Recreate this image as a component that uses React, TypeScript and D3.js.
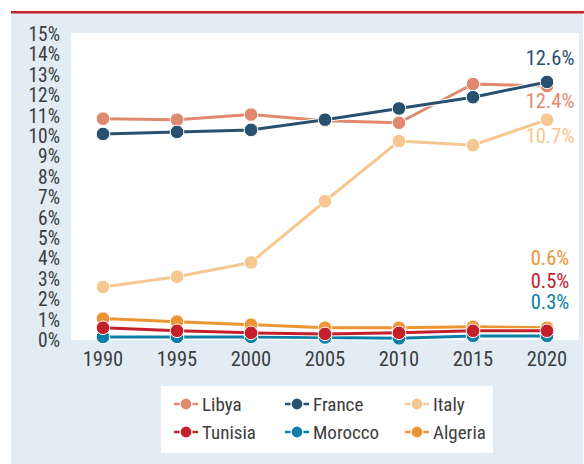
import React from "react";
import * as d3 from "d3";

const years = [1990, 1995, 2000, 2005, 2010, 2015, 2020];
const libya = [10.85, 10.8, 11.05, 10.75, 10.65, 12.55, 12.45];
const france = [10.1, 10.2, 10.3, 10.8, 11.35, 11.9, 12.65];
const italy = [2.6, 3.1, 3.8, 6.8, 9.75, 9.55, 10.8];
const tunisia = [0.6, 0.45, 0.35, 0.3, 0.35, 0.45, 0.45];
const morocco = [0.15, 0.15, 0.15, 0.12, 0.08, 0.2, 0.2];
const algeria = [1.05, 0.9, 0.75, 0.6, 0.6, 0.65, 0.6];
const yTicks = [0, 1, 2, 3, 4, 5, 6, 7, 8, 9, 10, 11, 12, 13, 14, 15];

const seriesNames = ["Libya", "France", "Italy", "Tunisia", "Morocco", "Algeria"];
const seriesData = [libya, france, italy, tunisia, morocco, algeria];
const colors = ["#e0896f", "#28506f", "#f6c790", "#c3202b", "#0b7fa8", "#ec9532"];
const endLabels = ["12.4%", "12.6%", "10.7%", "0.5%", "0.3%", "0.6%"];
const endLabelDy = [15, -24, 16, -50, -34, -70];
const drawOrder = [0, 1, 2, 5, 4, 3];

const FONT = "'Liberation Sans Narrow', 'Arial Narrow', 'Roboto Condensed', 'DejaVu Sans Condensed', sans-serif";
const TEXT = "#3d3d3d";

export default function App() {
  const W = 584, H = 464;
  const x = d3.scaleLinear().domain([1990, 2020]).range([103, 547]);
  const y = d3.scaleLinear().domain([0, 15]).range([340, 34]);
  const line = d3.line<number>().x((_, i) => x(years[i])).y((d) => y(d));

  return (
    <svg width={W} height={H} style={{ position: "absolute", left: 0, top: 0 }} fontFamily={FONT}>
      <rect x={0} y={0} width={W} height={H} fill="#ffffff" />
      <rect x={11} y={13} width={572} height={451} fill="#e2ecf5" />
      <rect x={11} y={11} width={573} height={2.5} fill="#c8232c" />
      <rect x={71} y={33} width={508} height={307} fill="#ffffff" />
      {yTicks.map((t) => (
        <text key={t} x={60} y={y(t)} dy="0.36em" textAnchor="end" fontSize={19.5} fill={TEXT}>
          {t}%
        </text>
      ))}
      {years.map((yr) => (
        <text key={yr} x={x(yr)} y={366} textAnchor="middle" fontSize={20.5} fill={TEXT}>
          {yr}
        </text>
      ))}
      {drawOrder.map((si) => (
        <g key={si}>
          <path d={line(seriesData[si]) || ""} fill="none" stroke="#ffffff" strokeWidth={5} strokeLinejoin="round" />
          <path d={line(seriesData[si]) || ""} fill="none" stroke={colors[si]} strokeWidth={3} strokeLinejoin="round" />
          {seriesData[si].map((v, i) => (
            <circle key={i} cx={x(years[i])} cy={y(v)} r={6.8} fill={colors[si]} stroke="#ffffff" strokeWidth={1} />
          ))}
        </g>
      ))}
      {seriesNames.map((n, si) => {
        const v = seriesData[si][years.length - 1];
        return (
          <text key={n} x={x(2020) + 3} y={y(v) + endLabelDy[si]} dy="0.36em" textAnchor="middle" fontSize={20.5} fill={colors[si]}>
            {endLabels[si]}
          </text>
        );
      })}
      <rect x={161} y={386} width={332} height={67} fill="#ffffff" />
      {seriesNames.map((n, si) => {
        const col = si % 3;
        const row = Math.floor(si / 3);
        const cx = [186, 297, 417][col];
        const cy = [404, 432][row];
        return (
          <g key={n}>
            <line x1={cx - 12} x2={cx + 12} y1={cy} y2={cy} stroke={colors[si]} strokeWidth={2.5} />
            <circle cx={cx} cy={cy} r={6} fill={colors[si]} stroke="#ffffff" strokeWidth={1.2} />
            <text x={cx + 16} y={cy} dy="0.36em" fontSize={19} fill={TEXT}>
              {n}
            </text>
          </g>
        );
      })}
    </svg>
  );
}
